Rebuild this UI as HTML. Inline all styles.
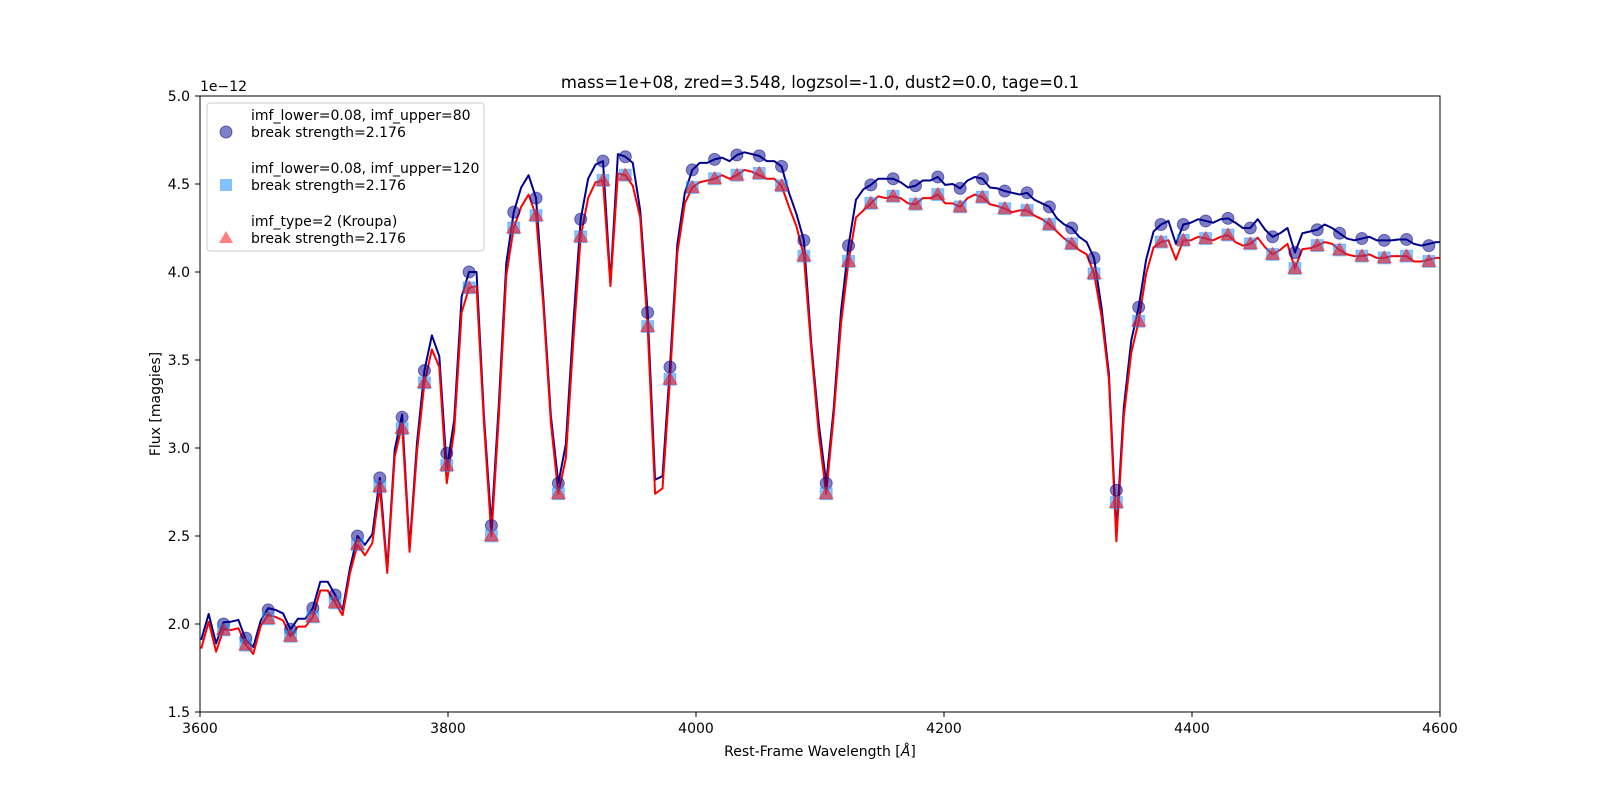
<!DOCTYPE html>
<html><head><meta charset="utf-8"><style>
body{margin:0;background:#fff;}
svg{display:block;font-family:"DejaVu Sans","Liberation Sans",sans-serif;}
</style></head><body>
<svg id="chart" width="1600" height="800" viewBox="0 0 1600 800" xmlns="http://www.w3.org/2000/svg">
<rect width="1600" height="800" fill="#fff"/>
<g id="plot"></g>
</svg>
<script>
const gridStart = 3601, gridStep = 6;
const fluxImf80 = [1.91,2.057,1.89,2.01,2.013,2.023,1.91,1.87,2.02,2.09,
2.08,2.06,1.97,2.03,2.03,2.09,2.24,2.24,2.165,2.08,
2.32,2.50,2.45,2.51,2.83,2.31,2.99,3.19,2.43,3.03,
3.44,3.64,3.52,2.88,3.16,3.86,4.00,4.00,3.18,2.56,
3.25,4.05,4.34,4.48,4.55,4.42,3.84,3.18,2.80,3.02,
3.70,4.30,4.53,4.61,4.63,3.94,4.67,4.655,4.62,4.35,
3.77,2.82,2.84,3.46,4.16,4.45,4.58,4.62,4.62,4.64,
4.65,4.63,4.665,4.68,4.67,4.66,4.63,4.63,4.60,4.45,
4.33,4.18,3.59,3.14,2.80,3.22,3.78,4.15,4.41,4.47,
4.495,4.53,4.53,4.53,4.51,4.48,4.49,4.52,4.52,4.54,
4.495,4.50,4.475,4.52,4.54,4.53,4.48,4.475,4.46,4.45,
4.44,4.45,4.41,4.39,4.37,4.305,4.27,4.25,4.20,4.17,
4.08,3.80,3.42,2.52,3.23,3.61,3.80,4.07,4.23,4.27,
4.29,4.16,4.27,4.28,4.30,4.29,4.28,4.30,4.305,4.28,
4.25,4.25,4.30,4.24,4.20,4.22,4.25,4.11,4.22,4.23,
4.24,4.27,4.25,4.22,4.19,4.18,4.19,4.20,4.18,4.18,
4.18,4.185,4.185,4.16,4.15,4.16,4.17,4.17];
const fluxKroupa = [1.86,2.013,1.843,1.97,1.966,1.976,1.88,1.83,1.99,2.05,
2.04,2.02,1.93,1.985,1.985,2.04,2.19,2.19,2.12,2.05,
2.29,2.45,2.39,2.46,2.78,2.29,2.95,3.13,2.41,2.98,
3.37,3.56,3.46,2.80,3.10,3.77,3.91,3.92,3.14,2.50,
3.18,3.98,4.25,4.37,4.44,4.32,3.80,3.14,2.74,2.94,
3.60,4.20,4.42,4.51,4.52,3.92,4.56,4.55,4.49,4.31,
3.69,2.74,2.77,3.39,4.11,4.39,4.48,4.51,4.52,4.53,
4.55,4.53,4.55,4.58,4.57,4.55,4.53,4.53,4.49,4.37,
4.26,4.09,3.56,3.08,2.74,3.18,3.71,4.06,4.31,4.35,
4.39,4.43,4.42,4.43,4.42,4.39,4.385,4.42,4.42,4.44,
4.39,4.39,4.37,4.42,4.44,4.425,4.385,4.375,4.36,4.34,
4.35,4.35,4.32,4.30,4.27,4.23,4.19,4.16,4.125,4.10,
3.99,3.75,3.39,2.47,3.18,3.54,3.72,3.99,4.14,4.17,
4.18,4.07,4.18,4.18,4.20,4.19,4.18,4.20,4.21,4.17,
4.15,4.16,4.195,4.14,4.10,4.125,4.16,4.02,4.13,4.135,
4.15,4.17,4.16,4.125,4.10,4.09,4.09,4.10,4.08,4.08,
4.09,4.09,4.09,4.06,4.06,4.07,4.08,4.08];
const markerStart = 3619, markerStep = 18;
const circleVals = [2.00,1.92,2.08,1.97,2.09,2.165,2.50,2.83,3.175,3.44,2.97,4.00,2.56,4.34,4.42,2.80,4.30,4.63,4.655,3.77,3.46,4.58,4.64,4.665,4.66,4.60,4.18,2.80,4.15,4.495,4.53,4.49,4.54,4.475,4.53,4.46,4.45,4.37,4.25,4.08,2.76,3.80,4.27,4.27,4.29,4.305,4.25,4.20,4.11,4.24,4.22,4.19,4.18,4.185,4.15];
const squareVals = [1.966,1.88,2.03,1.93,2.04,2.12,2.45,2.78,3.11,3.37,2.90,3.91,2.50,4.25,4.32,2.74,4.20,4.52,4.55,3.69,3.39,4.48,4.53,4.55,4.56,4.49,4.09,2.74,4.06,4.39,4.43,4.385,4.44,4.37,4.425,4.36,4.35,4.27,4.16,3.99,2.69,3.72,4.17,4.18,4.19,4.21,4.16,4.10,4.02,4.15,4.125,4.09,4.08,4.09,4.06];
const triangleVals = [1.966,1.88,2.03,1.93,2.04,2.12,2.45,2.78,3.11,3.37,2.90,3.91,2.50,4.25,4.32,2.74,4.20,4.52,4.55,3.69,3.39,4.48,4.53,4.55,4.56,4.49,4.09,2.74,4.06,4.39,4.43,4.385,4.44,4.37,4.425,4.36,4.35,4.27,4.16,3.99,2.69,3.72,4.17,4.18,4.19,4.21,4.16,4.10,4.02,4.15,4.125,4.09,4.08,4.09,4.06];
const xTicks = [3600,3800,4000,4200,4400,4600];
const yTicks = [1.5,2.0,2.5,3.0,3.5,4.0,4.5,5.0];

const NS="http://www.w3.org/2000/svg";
const L=200,R=1440,T=96,B=712,xmin=3600,xmax=4600,ymin=1.5,ymax=5.0;
const sx=w=>L+(w-xmin)/(xmax-xmin)*(R-L);
const sy=v=>B-(v-ymin)/(ymax-ymin)*(B-T);
const plot=document.getElementById('plot');
function mk(tag,attrs,parent){const e=document.createElementNS(NS,tag);for(const k in attrs)e.setAttribute(k,attrs[k]);(parent||plot).appendChild(e);return e;}

const defs=mk('defs',{});
const cp=mk('clipPath',{id:'clip'},defs);mk('rect',{x:L,y:T,width:R-L,height:B-T},cp);
const data=mk('g',{'clip-path':'url(#clip)'});

function linePath(vals,color,name){
  let d='';vals.forEach((v,i)=>{d+=(i?'L':'M')+sx(gridStart+i*gridStep).toFixed(2)+','+sy(v).toFixed(2);});
  const p=mk('path',{d:d,fill:'none',stroke:color,'stroke-width':2,'stroke-linejoin':'round'},data);
  
  
}
linePath(fluxImf80,'#00008b','line-imf-upper-80');
linePath(fluxKroupa,'#ff0000','line-kroupa');

circleVals.forEach((v,k)=>{const c=mk('circle',{cx:sx(markerStart+k*markerStep),cy:sy(v),r:6,fill:'#00008b','fill-opacity':0.5,stroke:'#00008b','stroke-opacity':0.5,'stroke-width':1},data);
  
  });
squareVals.forEach((v,k)=>{const x=sx(markerStart+k*markerStep),y=sy(v);const s=mk('rect',{x:x-6,y:y-6,width:12,height:12,fill:'#1e90ff','fill-opacity':0.55,stroke:'#1e90ff','stroke-opacity':0.4,'stroke-width':1},data);
  
  });
triangleVals.forEach((v,k)=>{const x=sx(markerStart+k*markerStep),y=sy(v);const t=mk('polygon',{points:`${x},${y-7} ${x-7},${y+5} ${x+7},${y+5}`,fill:'#ff0000','fill-opacity':0.5,stroke:'#ff0000','stroke-opacity':0.4,'stroke-width':1},data);
  
  });

const frame=mk('rect',{x:L,y:T,width:R-L,height:B-T,fill:'none',stroke:'#000','stroke-width':1});



xTicks.forEach(t=>{const x=sx(t);mk('line',{x1:x,x2:x,y1:B,y2:B+5,stroke:'#000'});
  const tx=mk('text',{x:x,y:733,'font-size':14,'text-anchor':'middle',fill:'#000'});tx.textContent=t;
  
  });
yTicks.forEach(t=>{const y=sy(t);mk('line',{x1:L-5,x2:L,y1:y,y2:y,stroke:'#000'});
  const tx=mk('text',{x:190,y:y+5,'font-size':14,'text-anchor':'end',fill:'#000'});tx.textContent=t.toFixed(1);
  
  });
</script>
<svg style="position:absolute;left:0;top:0" width="1600" height="800">
<text x="200" y="91" font-size="14" font-family="DejaVu Sans, Liberation Sans, sans-serif">1e−12</text>
<text x="820" y="88" font-size="16.5" text-anchor="middle" font-family="DejaVu Sans, Liberation Sans, sans-serif">mass=1e+08, zred=3.548, logzsol=-1.0, dust2=0.0, tage=0.1</text>
<text x="820" y="756" font-size="14" text-anchor="middle" font-family="DejaVu Sans, Liberation Sans, sans-serif">Rest-Frame Wavelength [<tspan font-style="italic">Å</tspan>]</text>
<text x="160" y="404" font-size="14" text-anchor="middle" transform="rotate(-90 160 404)" font-family="DejaVu Sans, Liberation Sans, sans-serif">Flux [maggies]</text>
<g font-family="DejaVu Sans, Liberation Sans, sans-serif" font-size="14">
<rect x="207" y="103" width="277" height="148" rx="3" fill="#fff" fill-opacity="0.8" stroke="#ccc"/>
<circle cx="226" cy="132" r="6" fill="#00008b" fill-opacity="0.5" stroke="#00008b" stroke-opacity="0.5"/>
<text x="251" y="120">imf_lower=0.08, imf_upper=80</text>
<text x="251" y="137">break strength=2.176</text>
<rect x="220" y="179" width="12" height="12" fill="#1e90ff" fill-opacity="0.55"/>
<text x="251" y="173">imf_lower=0.08, imf_upper=120</text>
<text x="251" y="190">break strength=2.176</text>
<polygon points="226,231 219,243 233,243" fill="#ff0000" fill-opacity="0.5"/>
<text x="251" y="226">imf_type=2 (Kroupa)</text>
<text x="251" y="243">break strength=2.176</text>
</g>
</svg>
</body></html>
